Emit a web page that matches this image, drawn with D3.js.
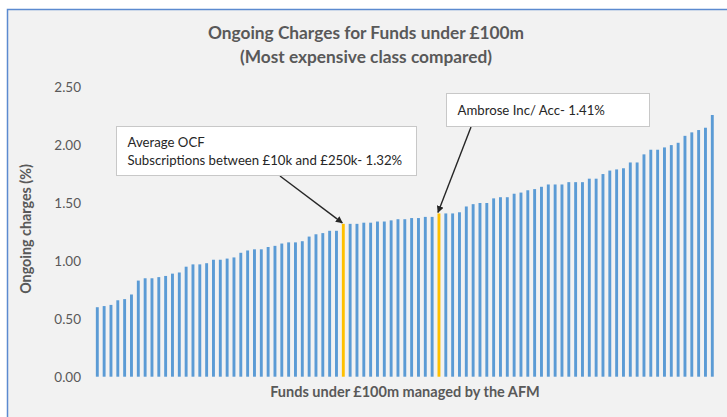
<!DOCTYPE html>
<html>
<head>
<meta charset="utf-8">
<script src="https://cdnjs.cloudflare.com/ajax/libs/d3/7.8.5/d3.min.js"></script>
<style>
  body { margin: 0; background: #ffffff; }
  svg { display: block; }
  .title { font-family: Lato, "Open Sans", sans-serif; font-weight: bold; fill: #595959; }
  .axisText { font-family: Lato, "Open Sans", sans-serif; font-weight: bold; fill: #595959; }
  .tickText { font-family: Lato, "Open Sans", sans-serif; fill: #595959; }
  .noteText { font-family: Lato, "Open Sans", sans-serif; fill: #262626; }
</style>
</head>
<body>
<div id="chart"></div>
<script>
// Ongoing charge (%) of each fund, sorted as in the chart
var charges = [
  0.60, 0.61, 0.62, 0.66, 0.67, 0.71, 0.83, 0.85, 0.85, 0.86, 0.87, 0.89, 0.90, 0.95, 0.97, 0.97, 0.98,
  1.01, 1.01, 1.02, 1.03, 1.07, 1.09, 1.10, 1.10, 1.12, 1.13, 1.15, 1.16, 1.16, 1.17, 1.21, 1.23, 1.24, 1.26, 1.26,
  1.32,
  1.32, 1.32, 1.33, 1.33, 1.34, 1.34, 1.35, 1.36, 1.36, 1.37, 1.37, 1.38, 1.38,
  1.41,
  1.41, 1.41, 1.42, 1.47, 1.49, 1.50, 1.50, 1.54, 1.55, 1.55, 1.58, 1.59, 1.61, 1.62, 1.64, 1.66, 1.66, 1.66, 1.68, 1.68,
  1.68, 1.71, 1.71, 1.75, 1.78, 1.79, 1.80, 1.85, 1.85, 1.92, 1.96, 1.96, 1.98, 2.00, 2.02, 2.08, 2.11, 2.13, 2.15, 2.26
];

// highlighted bars (index into charges) and their callouts
var highlightIndex = [36, 50];
var highlightNotes = [
  ["Average OCF", "Subscriptions between £10k and £250k- 1.32%"],
  ["Ambrose Inc/ Acc- 1.41%"]
];

var yTicks = [0, 0.5, 1.0, 1.5, 2.0, 2.5];

var titleLines = ["Ongoing Charges for Funds under £100m", "(Most expensive class compared)"];
var yTitle = "Ongoing charges (%)";
var xTitle = "Funds under £100m managed by the AFM";

var svgWidth = 727;
var svgHeight = 417;

var svg = d3.select("#chart")
    .append("svg")
    .attr("width", svgWidth)
    .attr("height", svgHeight);

// chart area with blue frame
svg.append("rect")
    .attr("x", 7.5)
    .attr("y", 9.5)
    .attr("width", 730)
    .attr("height", 420)
    .attr("fill", "#f2f2f2")
    .attr("stroke", "#5b8ad0")
    .attr("stroke-width", 1.5);

// scales
var xScale = d3.scalePoint()
    .domain(d3.range(charges.length))
    .range([97.3, 712.3]);

var yScale = d3.scaleLinear()
    .domain([0, 2.5])
    .range([376.7, 87.2]);

var barWidth = 2.9;

// y axis (labels only, no line)
var leftAxis = d3.axisLeft(yScale)
    .tickValues(yTicks)
    .tickFormat(d3.format(".2f"))
    .tickSize(0)
    .tickPadding(0);

var yAxisGroup = svg.append("g")
    .attr("transform", "translate(81, 0)")
    .call(leftAxis);
yAxisGroup.select(".domain").remove();
yAxisGroup.selectAll("text")
    .attr("class", "tickText")
    .attr("font-family", null)
    .style("font-size", "13.5px");

// bars
svg.selectAll(".bar")
    .data(charges)
    .enter()
    .append("rect")
    .attr("class", "bar")
    .attr("x", (d, i) => xScale(i) - barWidth / 2)
    .attr("y", d => yScale(d))
    .attr("width", barWidth)
    .attr("height", d => yScale(0) - yScale(d))
    .attr("fill", (d, i) => highlightIndex.indexOf(i) >= 0 ? "#ffc000" : "#5b9bd5");

// titles
svg.selectAll(".title")
    .data(titleLines)
    .enter()
    .append("text")
    .attr("class", "title")
    .attr("x", 366)
    .attr("y", (d, i) => 39 + i * 24)
    .attr("text-anchor", "middle")
    .style("font-size", "17.3px")
    .text(d => d);

svg.append("text")
    .attr("class", "axisText")
    .attr("transform", "translate(31, 229) rotate(-90)")
    .attr("text-anchor", "middle")
    .style("font-size", "14.3px")
    .text(yTitle);

svg.append("text")
    .attr("class", "axisText")
    .attr("x", 405)
    .attr("y", 397)
    .attr("text-anchor", "middle")
    .style("font-size", "14.5px")
    .text(xTitle);

// arrow marker
svg.append("defs")
    .append("marker")
    .attr("id", "arrow")
    .attr("viewBox", "0 0 10 10")
    .attr("refX", 9)
    .attr("refY", 5)
    .attr("markerWidth", 7)
    .attr("markerHeight", 7)
    .attr("markerUnits", "userSpaceOnUse")
    .attr("orient", "auto")
    .append("path")
    .attr("d", "M0,0 L10,5 L0,10 z")
    .attr("fill", "#262626");

// callout boxes
var boxes = [
  {x: 116.5, y: 126.5, w: 300, h: 49, fromX: 280, fromY: 176},
  {x: 446.5, y: 93.5, w: 203, h: 33, fromX: 471, fromY: 127}
];

boxes.forEach((b, k) => {
  var idx = highlightIndex[k];
  var lines = highlightNotes[k];

  svg.append("line")
      .attr("x1", b.fromX)
      .attr("y1", b.fromY)
      .attr("x2", xScale(idx) - 1)
      .attr("y2", yScale(charges[idx]) - 1)
      .attr("stroke", "#262626")
      .attr("stroke-width", 1.4)
      .attr("marker-end", "url(#arrow)");

  svg.append("rect")
      .attr("x", b.x)
      .attr("y", b.y)
      .attr("width", b.w)
      .attr("height", b.h)
      .attr("fill", "#ffffff")
      .attr("stroke", "#c8c8c8")
      .attr("stroke-width", 1);

  svg.selectAll(null)
      .data(lines)
      .enter()
      .append("text")
      .attr("class", "noteText")
      .attr("x", b.x + 11)
      .attr("y", (d, i) => b.y + (lines.length > 1 ? 20 + i * 18 : 21))
      .style("font-size", "13.2px")
      .text(d => d);
});
</script>
</body>
</html>
